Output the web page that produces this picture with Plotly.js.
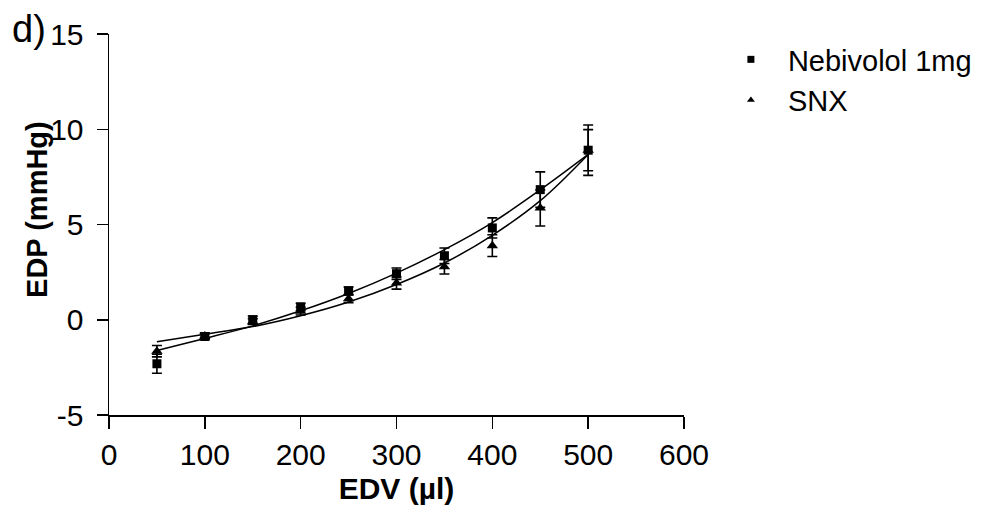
<!DOCTYPE html>
<html>
<head>
<meta charset="utf-8">
<script src="https://cdn.plot.ly/plotly-3.0.1.min.js"></script>
<style>
  html, body { margin: 0; padding: 0; background: #fff; }
  #chart { width: 992px; height: 515px; }
</style>
</head>
<body>
<div id="chart"></div>
<script>
// EDV (µl)
const edv = [50, 100, 150, 200, 250, 300, 350, 400, 450, 500];

// Nebivolol 1mg: mean EDP (mmHg) and SEM
const nebivololEDP = [-2.31, -0.88, 0.0, 0.67, 1.52, 2.42, 3.36, 4.82, 6.83, 8.90];
const nebivololSEM = [0.5, 0.15, 0.2, 0.2, 0.2, 0.3, 0.41, 0.53, 0.93, 1.32];

// SNX: mean EDP (mmHg) and SEM
const snxEDP = [-1.65, -0.85, -0.1, 0.45, 1.10, 1.93, 2.78, 3.89, 5.87, 8.90];
const snxSEM = [0.3, 0.15, 0.15, 0.2, 0.2, 0.32, 0.38, 0.57, 0.95, 1.08];

// Fitted curves at the same EDV values
const nebivololFit = [-1.61, -0.98, -0.32, 0.47, 1.38, 2.45, 3.68, 5.10, 6.82, 8.68];
const snxFit = [-1.16, -0.76, -0.36, 0.21, 0.93, 1.85, 2.98, 4.43, 6.25, 8.68];

const seriesNames = ["Nebivolol 1mg", "SNX"];
const xTicks = [0, 100, 200, 300, 400, 500, 600];
const yTicks = [-5, 0, 5, 10, 15];
const panelLabel = "d)";
const xTitle = "EDV (µl)";
const yTitle = "EDP (mmHg)";

const FONT = "Liberation Sans, Arial, Helvetica, sans-serif";

const errStyle = { type: "data", visible: true, color: "#000", thickness: 1.6, width: 5 };

const traces = [
  {
    x: edv, y: nebivololFit, mode: "lines", line: { color: "#000", width: 1.5, shape: "spline", smoothing: 1 },
    showlegend: false, hoverinfo: "skip"
  },
  {
    x: edv, y: snxFit, mode: "lines", line: { color: "#000", width: 1.5, shape: "spline", smoothing: 1 },
    showlegend: false, hoverinfo: "skip"
  },
  {
    x: edv, y: nebivololEDP, name: seriesNames[0], mode: "markers", showlegend: false,
    marker: { symbol: "square", size: 9, color: "#000" },
    error_y: Object.assign({ array: nebivololSEM }, errStyle)
  },
  {
    x: edv, y: snxEDP, name: seriesNames[1], mode: "markers", showlegend: false,
    marker: { symbol: "triangle-up", size: 10, color: "#000" },
    error_y: Object.assign({ array: snxSEM }, errStyle)
  },
  // legend entries (smaller symbols, as in the reference legend)
  {
    x: [null], y: [null], name: seriesNames[0], mode: "markers",
    marker: { symbol: "square", size: 7, color: "#000" }
  },
  {
    x: [null], y: [null], name: seriesNames[1], mode: "markers",
    marker: { symbol: "triangle-up", size: 7, color: "#000" }
  }
];

const layout = {
  width: 992, height: 515,
  margin: { l: 109, r: 308, t: 34, b: 100, pad: 0 },
  paper_bgcolor: "#fff", plot_bgcolor: "#fff",
  font: { family: FONT, size: 30, color: "#000" },
  xaxis: {
    range: [0, 600], tickvals: xTicks, ticktext: xTicks.map(String),
    showline: true, linecolor: "#000", linewidth: 1.5,
    ticks: "outside", ticklen: 12, tickwidth: 1.5, tickcolor: "#000",
    showgrid: false, zeroline: false,
    tickfont: { family: FONT, size: 30, color: "#000" },
    title: { text: "<b>" + xTitle + "</b>", font: { family: FONT, size: 30, color: "#000" }, standoff: 8 }
  },
  yaxis: {
    range: [-5, 15], tickvals: yTicks, ticktext: yTicks.map(String),
    showline: true, linecolor: "#000", linewidth: 1.5,
    ticks: "outside", ticklen: 11, tickwidth: 1.5, tickcolor: "#000",
    ticklabelstandoff: 7,
    showgrid: false, zeroline: false,
    tickfont: { family: FONT, size: 30, color: "#000" }
  },
  legend: {
    x: 1.052, xanchor: "left", y: 1.0, yanchor: "top",
    font: { family: FONT, size: 29, color: "#000" },
    itemwidth: 64, bgcolor: "rgba(0,0,0,0)", borderwidth: 0
  },
  annotations: [
    {
      text: panelLabel, xref: "paper", yref: "paper", x: -0.172, y: 1.012, xanchor: "left", yanchor: "middle",
      showarrow: false, font: { family: FONT, size: 38, color: "#000" }
    },
    {
      text: "<b>" + yTitle + "</b>", xref: "paper", yref: "paper", x: -0.124, y: 0.54,
      xanchor: "center", yanchor: "middle", textangle: -90,
      showarrow: false, font: { family: FONT, size: 29, color: "#000" }
    }
  ],
  showlegend: true
};

Plotly.newPlot("chart", traces, layout, { displayModeBar: false, staticPlot: true });
</script>
</body>
</html>
